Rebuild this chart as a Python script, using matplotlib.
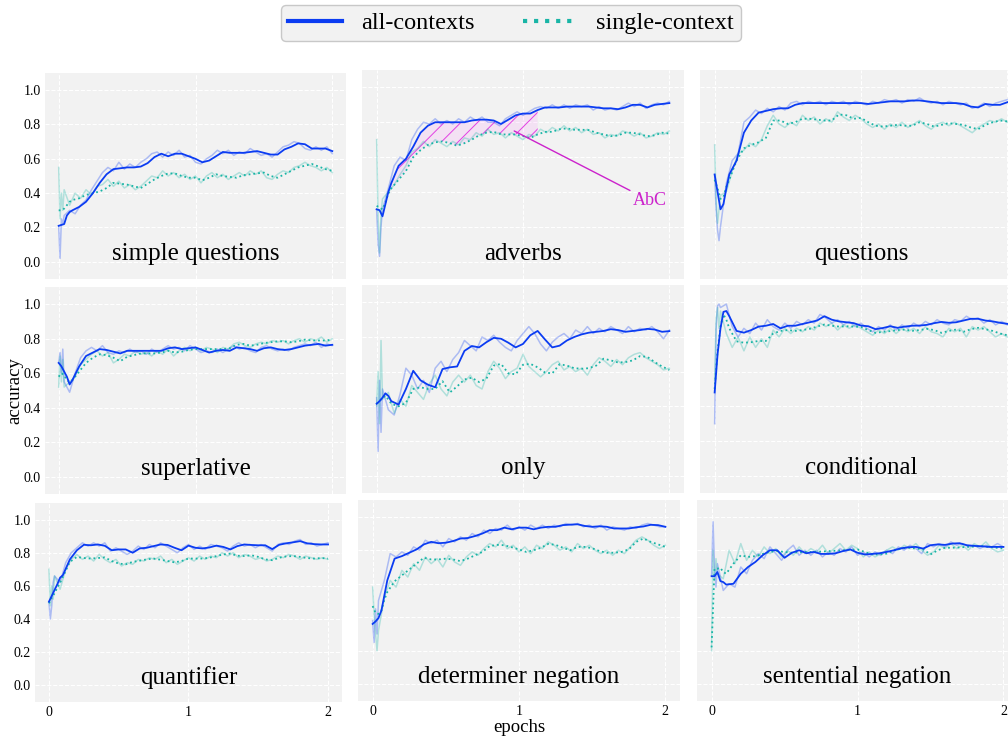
import numpy as np
import matplotlib
matplotlib.use('Agg')
import matplotlib.pyplot as plt
from matplotlib.lines import Line2D

plt.rcParams['font.family'] = ['Liberation Serif', 'DejaVu Serif']
plt.rcParams['hatch.linewidth'] = 0.7

# epochs of the smoothed curves and of the raw curves
EP_SMOOTH = [0, 0.02, 0.04, 0.06, 0.08] + [round(0.1 + 0.05 * k, 2) for k in range(39)]
EP_RAW = [0, 0.01, 0.02, 0.03] + [round(0.04 * k, 2) for k in range(1, 51)]

# ---- simple questions
SQ_ALL = [0.21, 0.215, 0.22, 0.27, 0.29,
          0.30, 0.32, 0.35, 0.40, 0.46, 0.51, 0.54, 0.545, 0.55, 0.55,
          0.555, 0.575, 0.61, 0.63, 0.615, 0.63, 0.63, 0.615, 0.60, 0.58,
          0.59, 0.615, 0.64, 0.635, 0.635, 0.635, 0.64, 0.645, 0.635, 0.625,
          0.625, 0.655, 0.67, 0.69, 0.685, 0.66, 0.66, 0.66, 0.645]
SQ_SINGLE = [0.30, 0.30, 0.31, 0.33, 0.35,
             0.36, 0.37, 0.39, 0.40, 0.41, 0.43, 0.46, 0.455, 0.45, 0.44,
             0.43, 0.455, 0.48, 0.50, 0.515, 0.515, 0.50, 0.49, 0.49, 0.475,
             0.49, 0.51, 0.50, 0.495, 0.49, 0.505, 0.51, 0.515, 0.52, 0.50,
             0.49, 0.51, 0.53, 0.55, 0.56, 0.57, 0.555, 0.54, 0.53]
SQ_ALL_RAW = [0.21, 0.02, 0.25, 0.22,
              0.27, 0.30, 0.28, 0.33, 0.36, 0.42, 0.47, 0.52, 0.55, 0.53,
              0.58, 0.54, 0.57, 0.55, 0.58, 0.60, 0.63, 0.64, 0.61, 0.64,
              0.62, 0.65, 0.61, 0.62, 0.58, 0.57, 0.60, 0.62, 0.65, 0.63,
              0.65, 0.62, 0.64, 0.63, 0.66, 0.64, 0.62, 0.63, 0.61, 0.64,
              0.67, 0.68, 0.70, 0.69, 0.66, 0.65, 0.67, 0.65, 0.67, 0.63]
SQ_SINGLE_RAW = [0.55, 0.25, 0.40, 0.30,
                 0.42, 0.33, 0.40, 0.37, 0.42, 0.39, 0.44, 0.45, 0.48, 0.44,
                 0.47, 0.43, 0.45, 0.42, 0.44, 0.47, 0.50, 0.49, 0.53, 0.50,
                 0.52, 0.49, 0.51, 0.48, 0.50, 0.46, 0.50, 0.52, 0.49, 0.51,
                 0.48, 0.50, 0.52, 0.50, 0.53, 0.51, 0.53, 0.49, 0.48, 0.51,
                 0.53, 0.52, 0.55, 0.56, 0.58, 0.56, 0.55, 0.53, 0.55, 0.52]

# ---- adverbs
ADV_ALL = [0.30, 0.295, 0.26, 0.33, 0.40,
           0.45, 0.55, 0.59, 0.66, 0.74, 0.78, 0.80, 0.80, 0.80, 0.80,
           0.80, 0.81, 0.815, 0.815, 0.81, 0.79, 0.815, 0.84, 0.85, 0.85,
           0.87, 0.885, 0.885, 0.885, 0.89, 0.89, 0.89, 0.89, 0.885, 0.88,
           0.88, 0.875, 0.885, 0.90, 0.90, 0.885, 0.90, 0.905, 0.91]
ADV_SINGLE = [0.32, 0.31, 0.30, 0.34, 0.39,
              0.42, 0.47, 0.52, 0.60, 0.64, 0.67, 0.685, 0.69, 0.68, 0.665,
              0.68, 0.70, 0.725, 0.74, 0.745, 0.73, 0.73, 0.73, 0.72, 0.71,
              0.73, 0.745, 0.745, 0.76, 0.765, 0.757, 0.757, 0.755, 0.74, 0.73,
              0.72, 0.725, 0.74, 0.74, 0.73, 0.72, 0.725, 0.74, 0.735]
ADV_ALL_RAW = [0.30, 0.10, 0.03, 0.20,
               0.30, 0.42, 0.55, 0.60, 0.58, 0.70, 0.76, 0.80, 0.79, 0.82,
               0.79, 0.81, 0.79, 0.82, 0.80, 0.83, 0.81, 0.83, 0.80, 0.80,
               0.78, 0.82, 0.84, 0.86, 0.84, 0.86, 0.88, 0.89, 0.88, 0.90,
               0.88, 0.90, 0.88, 0.90, 0.89, 0.90, 0.87, 0.89, 0.87, 0.88,
               0.87, 0.89, 0.91, 0.89, 0.91, 0.88, 0.90, 0.91, 0.90, 0.92]
ADV_SINGLE_RAW = [0.70, 0.25, 0.05, 0.28,
                  0.36, 0.40, 0.44, 0.50, 0.55, 0.63, 0.65, 0.69, 0.66, 0.70,
                  0.68, 0.66, 0.69, 0.67, 0.71, 0.70, 0.74, 0.72, 0.76, 0.73,
                  0.74, 0.71, 0.74, 0.72, 0.70, 0.73, 0.72, 0.76, 0.74, 0.77,
                  0.75, 0.78, 0.75, 0.77, 0.74, 0.76, 0.73, 0.74, 0.71, 0.73,
                  0.72, 0.75, 0.74, 0.72, 0.74, 0.71, 0.72, 0.74, 0.73, 0.75]

# ---- questions
Q_ALL = [0.50, 0.40, 0.30, 0.33, 0.42,
         0.50, 0.58, 0.74, 0.81, 0.855, 0.865, 0.875, 0.88, 0.88, 0.90,
         0.91, 0.91, 0.91, 0.91, 0.91, 0.91, 0.91, 0.91, 0.91, 0.905,
         0.91, 0.915, 0.92, 0.92, 0.92, 0.925, 0.925, 0.92, 0.915, 0.91,
         0.91, 0.91, 0.905, 0.89, 0.885, 0.905, 0.90, 0.90, 0.915]
Q_SINGLE = [0.47, 0.42, 0.36, 0.37, 0.43,
            0.47, 0.58, 0.65, 0.67, 0.685, 0.71, 0.81, 0.81, 0.79, 0.80,
            0.82, 0.82, 0.815, 0.81, 0.81, 0.845, 0.84, 0.82, 0.825, 0.80,
            0.78, 0.775, 0.78, 0.785, 0.78, 0.78, 0.80, 0.79, 0.775, 0.785,
            0.795, 0.79, 0.785, 0.77, 0.76, 0.785, 0.80, 0.81, 0.805]
Q_ALL_RAW = [0.50, 0.30, 0.18, 0.12,
             0.20, 0.45, 0.58, 0.62, 0.80, 0.83, 0.87, 0.85, 0.88, 0.86,
             0.89, 0.87, 0.91, 0.92, 0.90, 0.92, 0.91, 0.92, 0.90, 0.92,
             0.91, 0.92, 0.90, 0.92, 0.91, 0.90, 0.92, 0.91, 0.93, 0.92,
             0.93, 0.91, 0.93, 0.92, 0.94, 0.92, 0.91, 0.92, 0.90, 0.92,
             0.91, 0.90, 0.91, 0.88, 0.89, 0.91, 0.89, 0.91, 0.92, 0.93]
Q_SINGLE_RAW = [0.67, 0.35, 0.22, 0.30,
                0.38, 0.40, 0.52, 0.62, 0.64, 0.68, 0.66, 0.70, 0.78, 0.84,
                0.79, 0.77, 0.80, 0.78, 0.84, 0.81, 0.83, 0.79, 0.82, 0.80,
                0.86, 0.83, 0.81, 0.84, 0.82, 0.79, 0.77, 0.79, 0.76, 0.79,
                0.77, 0.80, 0.77, 0.79, 0.81, 0.78, 0.76, 0.79, 0.80, 0.78,
                0.80, 0.78, 0.76, 0.74, 0.77, 0.79, 0.81, 0.80, 0.82, 0.80]

# ---- superlative
SUP_ALL = [0.66, 0.64, 0.61, 0.58, 0.535,
           0.56, 0.64, 0.70, 0.72, 0.74, 0.735, 0.725, 0.715, 0.73, 0.73,
           0.73, 0.73, 0.73, 0.73, 0.745, 0.75, 0.74, 0.745, 0.75, 0.735,
           0.72, 0.73, 0.735, 0.73, 0.75, 0.745, 0.74, 0.73, 0.745, 0.75,
           0.74, 0.735, 0.74, 0.75, 0.76, 0.765, 0.77, 0.76, 0.765]
SUP_SINGLE = [0.58, 0.60, 0.59, 0.56, 0.55,
              0.56, 0.61, 0.66, 0.69, 0.71, 0.705, 0.69, 0.67, 0.695, 0.705,
              0.715, 0.715, 0.715, 0.72, 0.73, 0.72, 0.725, 0.735, 0.74, 0.74,
              0.74, 0.74, 0.74, 0.745, 0.765, 0.77, 0.76, 0.765, 0.775, 0.78,
              0.785, 0.785, 0.78, 0.785, 0.795, 0.79, 0.79, 0.79, 0.795]
SUP_ALL_RAW = [0.66, 0.72, 0.60, 0.74,
               0.55, 0.49, 0.60, 0.69, 0.73, 0.75, 0.73, 0.76, 0.72, 0.71,
               0.73, 0.72, 0.74, 0.72, 0.73, 0.71, 0.74, 0.72, 0.74, 0.76,
               0.74, 0.75, 0.73, 0.76, 0.74, 0.72, 0.73, 0.72, 0.74, 0.72,
               0.74, 0.76, 0.74, 0.75, 0.73, 0.72, 0.75, 0.76, 0.74, 0.73,
               0.74, 0.73, 0.75, 0.76, 0.77, 0.76, 0.78, 0.75, 0.77, 0.76]
SUP_SINGLE_RAW = [0.52, 0.70, 0.55, 0.68,
                  0.52, 0.55, 0.58, 0.65, 0.68, 0.71, 0.73, 0.70, 0.72, 0.66,
                  0.68, 0.71, 0.70, 0.73, 0.71, 0.72, 0.70, 0.73, 0.71, 0.74,
                  0.70, 0.73, 0.75, 0.73, 0.75, 0.73, 0.75, 0.74, 0.72, 0.75,
                  0.74, 0.77, 0.78, 0.76, 0.75, 0.77, 0.78, 0.77, 0.79, 0.78,
                  0.79, 0.77, 0.79, 0.80, 0.78, 0.80, 0.79, 0.81, 0.78, 0.80]

# ---- only
ONLY_ALL = [0.415, 0.43, 0.45, 0.475, 0.46,
            0.43, 0.41, 0.50, 0.605, 0.55, 0.525, 0.51, 0.615, 0.625, 0.63,
            0.72, 0.748, 0.74, 0.77, 0.795, 0.79, 0.767, 0.74, 0.76, 0.81,
            0.835, 0.786, 0.74, 0.75, 0.78, 0.80, 0.815, 0.825, 0.83, 0.835,
            0.845, 0.84, 0.83, 0.835, 0.84, 0.847, 0.843, 0.83, 0.834]
ONLY_SINGLE = [0.415, 0.43, 0.45, 0.46, 0.44,
               0.415, 0.40, 0.42, 0.50, 0.51, 0.50, 0.50, 0.545, 0.48, 0.515,
               0.555, 0.565, 0.54, 0.56, 0.635, 0.645, 0.59, 0.585, 0.64, 0.645,
               0.625, 0.595, 0.59, 0.643, 0.635, 0.62, 0.617, 0.62, 0.635, 0.675,
               0.665, 0.653, 0.655, 0.665, 0.69, 0.685, 0.655, 0.63, 0.61]
ONLY_ALL_RAW = [0.45, 0.14, 0.55, 0.25,
                0.50, 0.38, 0.35, 0.47, 0.62, 0.58, 0.50, 0.55, 0.48, 0.62,
                0.66, 0.60, 0.67, 0.71, 0.78, 0.75, 0.72, 0.80, 0.78, 0.81,
                0.77, 0.74, 0.72, 0.78, 0.82, 0.86, 0.82, 0.76, 0.72, 0.77,
                0.80, 0.82, 0.79, 0.84, 0.82, 0.86, 0.82, 0.85, 0.83, 0.86,
                0.84, 0.82, 0.86, 0.83, 0.85, 0.84, 0.86, 0.83, 0.79, 0.84]
ONLY_SINGLE_RAW = [0.40, 0.60, 0.30, 0.78,
                   0.44, 0.48, 0.36, 0.44, 0.40, 0.52, 0.48, 0.44, 0.53, 0.58,
                   0.50, 0.46, 0.54, 0.58, 0.54, 0.58, 0.52, 0.50, 0.60, 0.66,
                   0.62, 0.56, 0.60, 0.62, 0.70, 0.63, 0.60, 0.57, 0.60, 0.64,
                   0.66, 0.61, 0.63, 0.60, 0.62, 0.58, 0.64, 0.68, 0.66, 0.63,
                   0.67, 0.64, 0.68, 0.70, 0.71, 0.68, 0.66, 0.64, 0.61, 0.62]

# ---- conditional
COND_ALL = [0.48, 0.70, 0.85, 0.945, 0.95,
            0.92, 0.835, 0.825, 0.84, 0.86, 0.865, 0.875, 0.85, 0.865, 0.865,
            0.875, 0.885, 0.895, 0.92, 0.90, 0.89, 0.885, 0.88, 0.866, 0.862,
            0.845, 0.852, 0.862, 0.853, 0.86, 0.865, 0.866, 0.87, 0.88, 0.887,
            0.882, 0.885, 0.895, 0.905, 0.905, 0.895, 0.89, 0.882, 0.876]
COND_SINGLE = [0.50, 0.72, 0.86, 0.93, 0.90,
               0.85, 0.775, 0.767, 0.77, 0.777, 0.777, 0.82, 0.835, 0.84, 0.835,
               0.84, 0.847, 0.86, 0.872, 0.865, 0.86, 0.862, 0.86, 0.858, 0.84,
               0.824, 0.83, 0.834, 0.84, 0.843, 0.836, 0.84, 0.847, 0.84, 0.824,
               0.835, 0.843, 0.83, 0.845, 0.853, 0.845, 0.835, 0.82, 0.81]
COND_ALL_RAW = [0.30, 0.85, 0.98, 0.99,
                0.97, 0.99, 0.86, 0.80, 0.85, 0.82, 0.88, 0.84, 0.90, 0.86,
                0.84, 0.88, 0.85, 0.89, 0.87, 0.90, 0.88, 0.93, 0.91, 0.88,
                0.90, 0.87, 0.89, 0.86, 0.88, 0.85, 0.83, 0.86, 0.84, 0.87,
                0.84, 0.87, 0.85, 0.88, 0.86, 0.89, 0.87, 0.90, 0.88, 0.87,
                0.90, 0.89, 0.92, 0.90, 0.91, 0.88, 0.90, 0.87, 0.89, 0.87]
COND_SINGLE_RAW = [0.55, 0.90, 0.97, 0.85,
                   0.95, 0.82, 0.74, 0.80, 0.72, 0.80, 0.74, 0.79, 0.74, 0.84,
                   0.80, 0.85, 0.82, 0.85, 0.83, 0.86, 0.84, 0.88, 0.86, 0.88,
                   0.84, 0.87, 0.85, 0.87, 0.85, 0.83, 0.81, 0.84, 0.82, 0.85,
                   0.82, 0.85, 0.83, 0.85, 0.82, 0.86, 0.83, 0.82, 0.80, 0.85,
                   0.83, 0.85, 0.80, 0.86, 0.84, 0.86, 0.83, 0.80, 0.82, 0.80]

# ---- quantifier
QU_ALL = [0.505, 0.54, 0.575, 0.61, 0.65,
          0.665, 0.76, 0.815, 0.848, 0.845, 0.85, 0.842, 0.815, 0.82, 0.82,
          0.80, 0.826, 0.83, 0.84, 0.85, 0.847, 0.83, 0.815, 0.843, 0.83,
          0.826, 0.832, 0.843, 0.835, 0.82, 0.84, 0.85, 0.847, 0.845, 0.845,
          0.822, 0.848, 0.857, 0.863, 0.87, 0.857, 0.852, 0.85, 0.85]
QU_SINGLE = [0.495, 0.53, 0.555, 0.59, 0.62,
             0.655, 0.745, 0.775, 0.768, 0.765, 0.768, 0.772, 0.75, 0.735, 0.73,
             0.745, 0.752, 0.76, 0.765, 0.758, 0.75, 0.742, 0.75, 0.765, 0.765,
             0.765, 0.77, 0.78, 0.79, 0.795, 0.782, 0.78, 0.785, 0.775, 0.76,
             0.755, 0.77, 0.778, 0.78, 0.775, 0.768, 0.765, 0.768, 0.765]
QU_ALL_RAW = [0.50, 0.40, 0.48, 0.62,
              0.66, 0.62, 0.74, 0.80, 0.83, 0.86, 0.84, 0.86, 0.84, 0.86,
              0.81, 0.83, 0.81, 0.79, 0.81, 0.84, 0.82, 0.85, 0.83, 0.86,
              0.84, 0.82, 0.80, 0.83, 0.85, 0.82, 0.84, 0.82, 0.85, 0.84,
              0.83, 0.81, 0.84, 0.86, 0.84, 0.85, 0.83, 0.85, 0.83, 0.81,
              0.85, 0.86, 0.85, 0.87, 0.88, 0.85, 0.86, 0.84, 0.85, 0.86]
QU_SINGLE_RAW = [0.70, 0.48, 0.60, 0.52,
                 0.66, 0.58, 0.70, 0.76, 0.79, 0.76, 0.78, 0.75, 0.79, 0.76,
                 0.74, 0.76, 0.72, 0.74, 0.73, 0.76, 0.75, 0.77, 0.76, 0.78,
                 0.74, 0.76, 0.73, 0.75, 0.77, 0.75, 0.78, 0.76, 0.78, 0.77,
                 0.80, 0.78, 0.80, 0.77, 0.79, 0.78, 0.76, 0.77, 0.75, 0.76,
                 0.78, 0.77, 0.79, 0.78, 0.76, 0.78, 0.77, 0.76, 0.77, 0.76]

# ---- determiner negation
DN_ALL = [0.36, 0.375, 0.395, 0.44, 0.53,
          0.62, 0.75, 0.765, 0.785, 0.805, 0.835, 0.85, 0.842, 0.845, 0.855,
          0.87, 0.873, 0.885, 0.90, 0.92, 0.92, 0.935, 0.925, 0.935, 0.935,
          0.925, 0.935, 0.94, 0.94, 0.95, 0.953, 0.955, 0.945, 0.94, 0.943,
          0.94, 0.93, 0.93, 0.93, 0.937, 0.942, 0.952, 0.95, 0.94]
DN_SINGLE = [0.467, 0.425, 0.42, 0.44, 0.505,
             0.55, 0.615, 0.65, 0.685, 0.72, 0.755, 0.745, 0.745, 0.75, 0.745,
             0.735, 0.75, 0.77, 0.79, 0.825, 0.832, 0.83, 0.818, 0.805, 0.79,
             0.80, 0.815, 0.838, 0.832, 0.815, 0.80, 0.82, 0.82, 0.812, 0.795,
             0.785, 0.785, 0.79, 0.805, 0.85, 0.87, 0.85, 0.835, 0.82]
DN_ALL_RAW = [0.38, 0.25, 0.45, 0.30,
              0.50, 0.62, 0.78, 0.76, 0.79, 0.77, 0.82, 0.80, 0.86, 0.84,
              0.86, 0.82, 0.87, 0.85, 0.88, 0.86, 0.90, 0.88, 0.92, 0.90,
              0.93, 0.92, 0.95, 0.92, 0.94, 0.92, 0.95, 0.93, 0.95, 0.93,
              0.95, 0.94, 0.96, 0.95, 0.96, 0.94, 0.95, 0.93, 0.95, 0.92,
              0.94, 0.93, 0.92, 0.94, 0.93, 0.95, 0.96, 0.95, 0.94, 0.94]
DN_SINGLE_RAW = [0.58, 0.42, 0.30, 0.20,
                 0.32, 0.52, 0.62, 0.58, 0.68, 0.64, 0.72, 0.68, 0.76, 0.72,
                 0.75, 0.70, 0.77, 0.73, 0.71, 0.76, 0.79, 0.77, 0.81, 0.84,
                 0.82, 0.86, 0.81, 0.83, 0.79, 0.82, 0.78, 0.83, 0.81, 0.85,
                 0.83, 0.80, 0.82, 0.79, 0.84, 0.81, 0.83, 0.80, 0.78, 0.80,
                 0.77, 0.80, 0.78, 0.82, 0.86, 0.88, 0.86, 0.83, 0.81, 0.83]

# ---- sentential negation
SN_ALL = [0.645, 0.645, 0.67, 0.616, 0.61,
          0.595, 0.60, 0.66, 0.70, 0.73, 0.77, 0.80, 0.80, 0.755, 0.785,
          0.80, 0.782, 0.79, 0.778, 0.778, 0.782, 0.795, 0.805, 0.785, 0.775,
          0.778, 0.782, 0.79, 0.80, 0.812, 0.818, 0.82, 0.81, 0.83, 0.835,
          0.832, 0.84, 0.842, 0.83, 0.826, 0.824, 0.82, 0.82, 0.82]
SN_SINGLE = [0.22, 0.69, 0.69, 0.695, 0.67,
             0.66, 0.72, 0.77, 0.76, 0.765, 0.778, 0.79, 0.795, 0.79, 0.785,
             0.788, 0.79, 0.79, 0.792, 0.795, 0.797, 0.80, 0.803, 0.805, 0.79,
             0.775, 0.775, 0.78, 0.80, 0.81, 0.815, 0.81, 0.805, 0.775, 0.80,
             0.815, 0.815, 0.817, 0.82, 0.822, 0.825, 0.82, 0.815, 0.81]
SN_ALL_RAW = [0.65, 0.97, 0.70, 0.58,
              0.72, 0.56, 0.60, 0.58, 0.70, 0.66, 0.74, 0.78, 0.75, 0.82,
              0.78, 0.74, 0.80, 0.83, 0.77, 0.80, 0.77, 0.80, 0.76, 0.79,
              0.77, 0.81, 0.79, 0.82, 0.77, 0.79, 0.76, 0.79, 0.77, 0.80,
              0.78, 0.82, 0.80, 0.83, 0.81, 0.78, 0.84, 0.82, 0.84, 0.82,
              0.85, 0.83, 0.84, 0.82, 0.83, 0.81, 0.83, 0.82, 0.84, 0.82]
SN_SINGLE_RAW = [0.20, 0.80, 0.62, 0.75,
                 0.66, 0.63, 0.80, 0.72, 0.84, 0.74, 0.80, 0.76, 0.82, 0.78,
                 0.81, 0.76, 0.80, 0.77, 0.82, 0.78, 0.81, 0.79, 0.83, 0.78,
                 0.81, 0.84, 0.80, 0.83, 0.81, 0.76, 0.79, 0.76, 0.78, 0.80,
                 0.82, 0.80, 0.83, 0.81, 0.84, 0.80, 0.77, 0.79, 0.83, 0.81,
                 0.84, 0.81, 0.83, 0.80, 0.84, 0.82, 0.85, 0.81, 0.79, 0.80]

PANELS = [
    ('simple questions', SQ_ALL, SQ_SINGLE, SQ_ALL_RAW, SQ_SINGLE_RAW),
    ('adverbs', ADV_ALL, ADV_SINGLE, ADV_ALL_RAW, ADV_SINGLE_RAW),
    ('questions', Q_ALL, Q_SINGLE, Q_ALL_RAW, Q_SINGLE_RAW),
    ('superlative', SUP_ALL, SUP_SINGLE, SUP_ALL_RAW, SUP_SINGLE_RAW),
    ('only', ONLY_ALL, ONLY_SINGLE, ONLY_ALL_RAW, ONLY_SINGLE_RAW),
    ('conditional', COND_ALL, COND_SINGLE, COND_ALL_RAW, COND_SINGLE_RAW),
    ('quantifier', QU_ALL, QU_SINGLE, QU_ALL_RAW, QU_SINGLE_RAW),
    ('determiner negation', DN_ALL, DN_SINGLE, DN_ALL_RAW, DN_SINGLE_RAW),
    ('sentential negation', SN_ALL, SN_SINGLE, SN_ALL_RAW, SN_SINGLE_RAW),
]

# panel boxes in pixels: left, top, right, bottom (the panels are not on a strict grid)
BOXES = [(45, 73, 346, 279), (362, 70, 684, 279), (700, 70, 1022, 279),
         (45, 287, 346, 494), (362, 285, 684, 493), (700, 285, 1022, 493),
         (35, 503, 342, 702), (358, 500, 680, 701), (697, 500, 1018, 701)]

W, H = 1008, 737
BLUE = '#0b3cf2'
TEAL = '#19b5a6'
BG = '#f2f2f2'

fig = plt.figure(figsize=(W / 100, H / 100), dpi=100)

ep_s = np.array(EP_SMOOTH)
ep_r = np.array(EP_RAW)

for i, ((title, all_s, single_s, all_r, single_r), (l, t, r, b)) in enumerate(zip(PANELS, BOXES)):
    ax = fig.add_axes([l / W, 1 - b / H, (r - l) / W, (b - t) / H])
    ax.set_facecolor(BG)
    for s in ax.spines.values():
        s.set_visible(False)
    ax.set_xlim(-0.1, 2.1)
    ax.set_ylim(-0.1, 1.1)
    ax.set_xticks([0, 1, 2])
    ax.set_yticks([0.0, 0.2, 0.4, 0.6, 0.8, 1.0])
    ax.grid(True, color='white', linestyle='--', linewidth=0.8)
    ax.set_axisbelow(True)
    ax.tick_params(length=0, labelsize=10, pad=3)
    if i % 3 != 0:
        ax.set_yticklabels([])
    else:
        ax.set_yticklabels(['0.0', '0.2', '0.4', '0.6', '0.8', '1.0'])
    if i < 6:
        ax.set_xticklabels([])

    ax.plot(ep_r, all_r, color=BLUE, alpha=0.3, lw=1.1)
    ax.plot(ep_r, single_r, color=TEAL, alpha=0.3, lw=1.1)
    ax.plot(ep_s, single_s, color=TEAL, lw=1.3, linestyle=':')
    ax.plot(ep_s, all_s, color=BLUE, lw=1.3)

    if title == 'adverbs':
        mask = (ep_s >= 0.1) & (ep_s <= 1.1)
        ax.fill_between(ep_s[mask], np.array(all_s)[mask], np.array(single_s)[mask],
                        facecolor=(1, 0.3, 1, 0.1), edgecolor='#e33fe3', hatch='//', linewidth=0)
        ax.annotate('AbC', xy=(0.94, 0.75), xytext=(1.75, 0.40), color='#cc22cc', fontsize=13,
                    ha='left', va='top',
                    arrowprops=dict(arrowstyle='-', color='#cc22cc', lw=1.0, relpos=(0, 1),
                                    shrinkA=0, shrinkB=0))

    ax.text(0.5, 0.09, title, transform=ax.transAxes, ha='center', va='baseline', fontsize=18)

fig.text(15 / W, 1 - 391 / H, 'accuracy', rotation=90, ha='center', va='center', fontsize=13.5)
fig.text(519 / W, 1 - 727 / H, 'epochs', ha='center', va='center', fontsize=13.5)

handles = [Line2D([], [], color=BLUE, lw=3),
           Line2D([], [], color=TEAL, lw=3, linestyle=':')]
fig.legend(handles, ['all-contexts', 'single-context'], loc='center',
           bbox_to_anchor=(511 / W, 1 - 23 / H), ncol=2, fontsize=17.5, frameon=True,
           facecolor=BG, edgecolor='#c8c8c8', framealpha=1, handlelength=2.2,
           handletextpad=0.8, columnspacing=2.0, borderpad=0.3)

fig.savefig('out.png', dpi=100)
